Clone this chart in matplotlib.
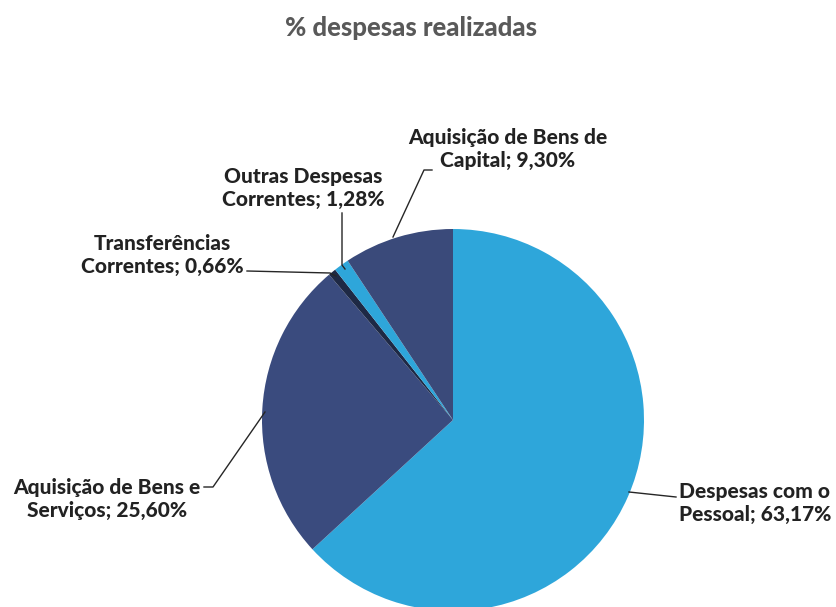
import matplotlib
matplotlib.use("Agg")
import matplotlib.pyplot as plt

categories = ["Despesas com o\nPessoal", "Aquisição de Bens e\nServiços", "Transferências\nCorrentes",
              "Outras Despesas\nCorrentes", "Aquisição de Bens de\nCapital"]
values = [63.17, 25.60, 0.66, 1.28, 9.30]
value_labels = ["63,17%", "25,60%", "0,66%", "1,28%", "9,30%"]
colors = ["#2EA6DA", "#3A4B7E", "#1E2945", "#2EA6DA", "#3A4A7A"]

W, H = 836, 607
fig = plt.figure(figsize=(W / 100, H / 100), dpi=100)
ax = fig.add_axes([0, 0, 1, 1])

def P(x, y):
    return x, H - y

cx, cy = P(453, 420)
ax.pie(values, colors=colors, startangle=90, counterclock=False,
       center=(cx, cy), radius=191, frame=True,
       wedgeprops=dict(linewidth=0))
ax.set_xlim(0, W)
ax.set_ylim(0, H)
ax.axis("off")

font = "Lato"
fs = 15
tc = "#222222"

# label positions (image px), alignment
lab = [
    (679, 503, "left"),
    (107, 499, "center"),
    (162, 255, "center"),
    (303, 188, "center"),
    (508, 149, "center"),
]
for (x, y, ha), cat, v in zip(lab, categories, value_labels):
    first, second = cat.split("\n")
    txt = first + "\n" + second + "; " + v
    ax.text(*P(x, y), txt, ha=ha, va="center", fontsize=fs, fontweight="black",
            family=font, color=tc, linespacing=1.2)

# leader lines (image px)
leaders = [
    [(629, 492), (676, 497)],
    [(204, 487), (213, 487), (265, 412)],
    [(247, 271), (330, 273), (336, 276)],
    [(342, 213), (342, 265), (345, 269)],
    [(393, 237), (424, 170), (432, 170)],
]
for pts in leaders:
    xs = [p[0] for p in pts]
    ys = [H - p[1] for p in pts]
    ax.plot(xs, ys, color="#262626", lw=1.0)

ax.text(*P(411, 28), "% despesas realizadas", ha="center", va="center",
        fontsize=18.5, fontweight="black", family=font, color="#595959")

fig.savefig("out.png", dpi=100)
